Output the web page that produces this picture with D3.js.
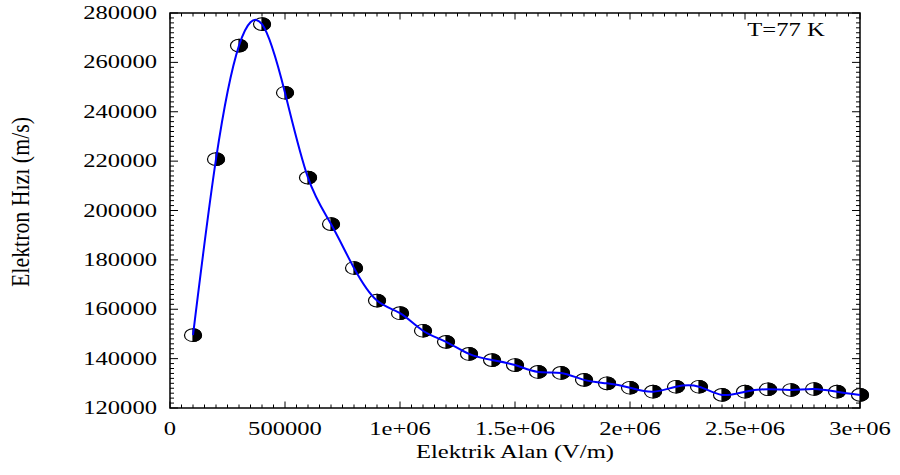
<!DOCTYPE html>
<html>
<head>
<meta charset="utf-8">
<script src="https://cdn.jsdelivr.net/npm/d3@7"></script>
<style>
  html, body { margin: 0; padding: 0; background: #fff; }
  svg text { font-family: "Liberation Serif", "DejaVu Serif", serif; fill: #000; }
</style>
</head>
<body>
<div id="chart"></div>
<script>
// electric field (V/m) and electron drift velocity (m/s), T = 77 K
const fieldValues = [
  100000, 200000, 300000, 400000, 500000, 600000, 700000, 800000, 900000, 1000000,
  1100000, 1200000, 1300000, 1400000, 1500000, 1600000, 1700000, 1800000, 1900000, 2000000,
  2100000, 2200000, 2300000, 2400000, 2500000, 2600000, 2700000, 2800000, 2900000, 3000000
];
const velocities = [
  149500, 220800, 266800, 275500, 247700, 213300, 194500, 176700, 163500, 158400,
  151300, 146800, 141900, 139400, 137400, 134600, 134200, 131400, 130000, 128200,
  126600, 128600, 128600, 125300, 126600, 127600, 127300, 127700, 126600, 125300
];
const xTickValues = [0, 500000, 1000000, 1500000, 2000000, 2500000, 3000000];
const xTickLabels = ['0', '500000', '1e+06', '1.5e+06', '2e+06', '2.5e+06', '3e+06'];
const yTickValues = [120000, 140000, 160000, 180000, 200000, 220000, 240000, 260000, 280000];
const xLabel = 'Elektrik Alan (V/m)';
const yLabel = 'Elektron Hızı (m/s)';
const tempLabel = 'T=77 K';

const W = 900, H = 475;
const margin = { left: 170, right: 40, top: 13, bottom: 67 };
const stretch = 1.33; // reference is stretched horizontally
const fs = 18.5;

const svg = d3.select('#chart').append('svg').attr('width', W).attr('height', H);

const x = d3.scaleLinear().domain([0, 3000000]).range([margin.left, W - margin.right]);
const y = d3.scaleLinear().domain([120000, 280000]).range([H - margin.bottom, margin.top]);

const [x0, x1] = x.range();
const [y0, y1] = y.range(); // y0 bottom, y1 top

// ticks, all pointing inward
const ticks = svg.append('g').attr('stroke', '#000').attr('stroke-width', 1);
const xMinor = d3.range(0, 3000001, 50000);
xMinor.forEach(v => {
  const major = v % 500000 === 0;
  const len = major ? 6.5 : 3.5;
  ticks.append('line').attr('x1', x(v)).attr('x2', x(v)).attr('y1', y0).attr('y2', y0 - len);
  ticks.append('line').attr('x1', x(v)).attr('x2', x(v)).attr('y1', y1).attr('y2', y1 + len);
});
const yMinor = d3.range(120000, 280001, 2000);
yMinor.forEach(v => {
  const major = v % 20000 === 0;
  const len = major ? 8 : 4;
  ticks.append('line').attr('x1', x0).attr('x2', x0 + len).attr('y1', y(v)).attr('y2', y(v));
  ticks.append('line').attr('x1', x1).attr('x2', x1 - len).attr('y1', y(v)).attr('y2', y(v));
});

// frame
svg.append('rect')
  .attr('x', x0).attr('y', y1)
  .attr('width', x1 - x0).attr('height', y0 - y1)
  .attr('fill', 'none').attr('stroke', '#000').attr('stroke-width', 1.5);

// tick labels
svg.append('g').selectAll('text')
  .data(xTickValues)
  .join('text')
  .attr('transform', d => `translate(${x(d)},435) scale(${stretch},1)`)
  .attr('text-anchor', 'middle')
  .attr('font-size', fs)
  .text((d, i) => xTickLabels[i]);

svg.append('g').selectAll('text')
  .data(yTickValues)
  .join('text')
  .attr('transform', d => `translate(157,${y(d) + 6}) scale(${stretch},1)`)
  .attr('text-anchor', 'end')
  .attr('font-size', fs)
  .text(d => d3.format('d')(d));

// axis titles
svg.append('text')
  .attr('transform', `translate(515,458) scale(${stretch},1)`)
  .attr('text-anchor', 'middle')
  .attr('font-size', fs)
  .text(xLabel);

svg.append('text')
  .attr('transform', `translate(29,202) rotate(-90) scale(1,${stretch})`)
  .attr('text-anchor', 'middle')
  .attr('font-size', fs)
  .attr('textLength', 170)
  .attr('lengthAdjust', 'spacingAndGlyphs')
  .text(yLabel);

svg.append('text')
  .attr('transform', `translate(786,36) scale(${stretch},1)`)
  .attr('text-anchor', 'middle')
  .attr('font-size', fs)
  .text(tempLabel);

// markers: half white / half black ellipses
const r = 6.4;
const pts = fieldValues.map((f, i) => [f, velocities[i]]);
const marks = svg.append('g').selectAll('g')
  .data(pts)
  .join('g')
  .attr('transform', d => `translate(${x(d[0])},${y(d[1])}) scale(${stretch},1)`);
marks.append('circle').attr('r', r).attr('fill', '#fff').attr('stroke', '#000').attr('stroke-width', 0.9);
marks.append('path').attr('d', `M0,${-r}A${r},${r} 0 0 1 0,${r}Z`).attr('fill', '#000').attr('stroke', '#000').attr('stroke-width', 0.9);

// smooth curve through the points
const line = d3.line()
  .x(d => x(d[0]))
  .y(d => y(d[1]))
  .curve(d3.curveNatural);

svg.append('path')
  .datum(pts)
  .attr('d', line)
  .attr('fill', 'none')
  .attr('stroke', '#0000ff')
  .attr('stroke-width', 2);
</script>
</body>
</html>
